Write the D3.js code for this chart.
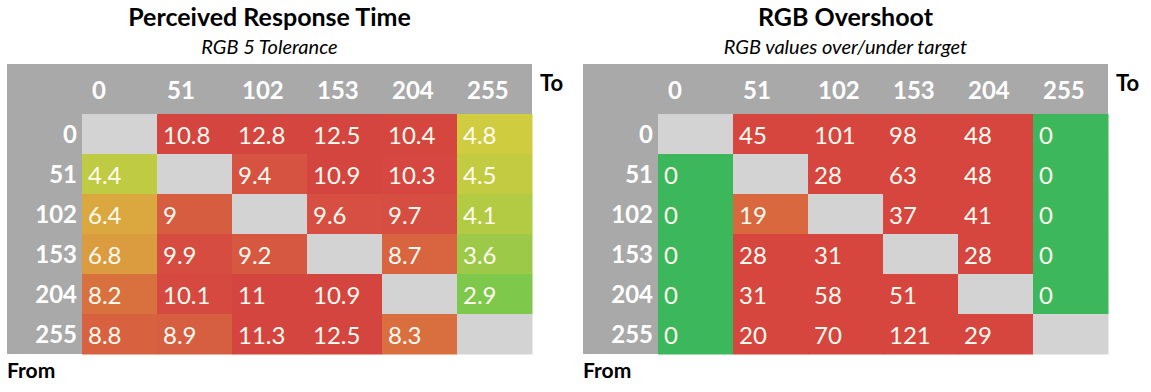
<!DOCTYPE html>
<html>
<head>
<meta charset="utf-8">
<script src="https://cdn.jsdelivr.net/npm/d3@7"></script>
<style>
  body { margin:0; background:#fff; }
  svg text { font-family: Lato, "Open Sans", sans-serif; }
</style>
</head>
<body>
<svg></svg>
<script>
// levels used for both axes (from -> to)
var levels = [0, 51, 102, 153, 204, 255];

// perceived response time, ms (rows = from, cols = to), null = diagonal
var responseTime = [
  [null, 10.8, 12.8, 12.5, 10.4, 4.8],
  [4.4, null, 9.4, 10.9, 10.3, 4.5],
  [6.4, 9, null, 9.6, 9.7, 4.1],
  [6.8, 9.9, 9.2, null, 8.7, 3.6],
  [8.2, 10.1, 11, 10.9, null, 2.9],
  [8.8, 8.9, 11.3, 12.5, 8.3, null]
];

// rgb overshoot values
var overshoot = [
  [null, 45, 101, 98, 48, 0],
  [0, null, 28, 63, 48, 0],
  [0, 19, null, 37, 41, 0],
  [0, 28, 31, null, 28, 0],
  [0, 31, 58, 51, null, 0],
  [0, 20, 70, 121, 29, null]
];

var titles = ["Perceived Response Time", "RGB Overshoot"];
var subtitles = ["RGB 5 Tolerance", "RGB values over/under target"];

var screen = { width: 1151, height: 392 };

var svg = d3.select("svg")
            .attr("width", screen.width)
            .attr("height", screen.height);

var panel = {
  width: 525,
  headW: 75,
  top: 64,
  headH: 50,
  rowH: 40
};

var rtColor = d3.scaleLinear()
                .domain([2.9, 4.8, 6.4, 8.2, 9.5, 10.5])
                .range(["#7ec84b", "#d0cc3f", "#dba83f", "#d9713f", "#d65042", "#d5453f"])
                .clamp(true);

var osColor = d3.scaleLinear()
                .domain([0, 19, 20])
                .range(["#3cb75b", "#d9683f", "#d6463f"])
                .clamp(true);

var drawPanel = function(x0, data, color, title, subtitle)
{
  var xScale = d3.scaleBand()
                 .domain(levels)
                 .range([x0 + panel.headW, x0 + panel.width]);
  var yScale = d3.scaleBand()
                 .domain(levels)
                 .range([panel.top + panel.headH, panel.top + panel.headH + levels.length * panel.rowH]);

  var g = svg.append("g");

  g.append("rect")
   .attr("x", x0)
   .attr("y", panel.top)
   .attr("width", panel.width)
   .attr("height", yScale.range()[1] - panel.top)
   .attr("fill", "#a9a9a9");

  var cells = [];
  data.forEach(function(row, i) {
    row.forEach(function(v, j) {
      cells.push({ from: levels[i], to: levels[j], value: v });
    });
  });

  g.selectAll("rect.cell")
   .data(cells)
   .enter()
   .append("rect")
   .classed("cell", true)
   .attr("x", function(d) { return xScale(d.to); })
   .attr("y", function(d) { return yScale(d.from); })
   .attr("width", xScale.bandwidth() + 0.5)
   .attr("height", yScale.bandwidth() + 0.5)
   .attr("fill", function(d) { return d.value == null ? "#d3d3d3" : color(d.value); });

  g.selectAll("text.val")
   .data(cells.filter(function(d) { return d.value != null; }))
   .enter()
   .append("text")
   .classed("val", true)
   .attr("x", function(d) { return xScale(d.to) + 6; })
   .attr("y", function(d) { return yScale(d.from) + 30; })
   .attr("font-size", 24)
   .attr("fill", "#fdfaf0")
   .text(function(d) { return d.value; });

  // column labels (to)
  g.selectAll("text.colLab")
   .data(levels)
   .enter()
   .append("text")
   .classed("colLab", true)
   .attr("x", function(d) { return xScale(d) + 10; })
   .attr("y", panel.top + 35)
   .attr("font-size", 24)
   .attr("font-weight", "bold")
   .attr("fill", "#fff")
   .text(function(d) { return d; });

  // row labels (from)
  g.selectAll("text.rowLab")
   .data(levels)
   .enter()
   .append("text")
   .classed("rowLab", true)
   .attr("x", x0 + panel.headW - 5)
   .attr("y", function(d) { return yScale(d) + 29; })
   .attr("text-anchor", "end")
   .attr("font-size", 24)
   .attr("font-weight", "bold")
   .attr("fill", "#fff")
   .text(function(d) { return d; });

  g.append("text")
   .attr("x", x0 + panel.width / 2)
   .attr("y", 26)
   .attr("text-anchor", "middle")
   .attr("font-size", 25)
   .attr("font-weight", "bold")
   .attr("fill", "#000")
   .text(title);

  g.append("text")
   .attr("x", x0 + panel.width / 2)
   .attr("y", 54)
   .attr("text-anchor", "middle")
   .attr("font-size", 20)
   .attr("font-style", "italic")
   .attr("fill", "#000")
   .text(subtitle);

  g.append("text")
   .attr("x", x0 + panel.width + 8)
   .attr("y", 91)
   .attr("font-size", 22)
   .attr("font-weight", "bold")
   .attr("fill", "#000")
   .text("To");

  g.append("text")
   .attr("x", x0)
   .attr("y", 378)
   .attr("font-size", 21)
   .attr("font-weight", "bold")
   .attr("fill", "#000")
   .text("From");
}

drawPanel(7, responseTime, rtColor, titles[0], subtitles[0]);
drawPanel(583, overshoot, osColor, titles[1], subtitles[1]);
</script>
</body>
</html>
